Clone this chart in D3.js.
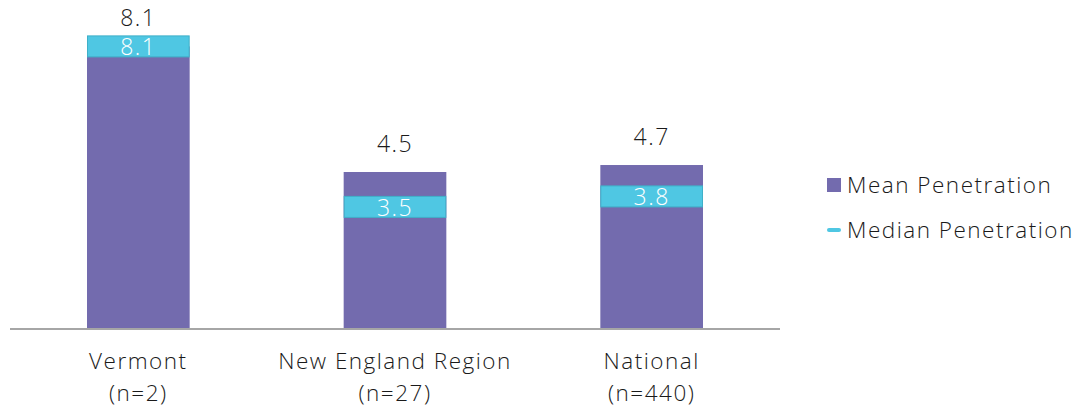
<!DOCTYPE html>
<html>
<head>
<meta charset="utf-8">
<script src="https://cdn.jsdelivr.net/npm/d3@7"></script>
<style>
  body { margin: 0; background: #fff; }
  text { font-family: "Open Sans", "Noto Sans", sans-serif; font-weight: 300; letter-spacing: 1.5px; }
</style>
</head>
<body>
<svg id="chart" width="1081" height="408"></svg>
<script>
var categories = ["Vermont", "New England Region", "National"];
var sampleLabels = ["(n=2)", "(n=27)", "(n=440)"];
var meanValues = [8.1, 4.5, 4.7];
var medianValues = [8.1, 3.5, 3.8];
var legendLabels = ["Mean Penetration", "Median Penetration"];

var purple = "#736bae";
var blue = "#4fc7e3";
var blueEdge = "#3fb0c8";

var svg = d3.select("#chart");

var baseline = 329;
var x = d3.scaleBand()
  .domain(categories)
  .range([10, 780])
  .paddingInner(0.6)
  .paddingOuter(0.3);

var y = d3.scaleLinear()
  .domain([0, 4.5])
  .range([baseline, 172]);

var data = categories.map(function(c, i) {
  return { cat: c, n: sampleLabels[i], mean: meanValues[i], median: medianValues[i] };
});

// mean bars
svg.selectAll("rect.mean")
  .data(data)
  .enter()
  .append("rect")
  .attr("class", "mean")
  .attr("x", function(d) { return x(d.cat); })
  .attr("y", function(d) { return y(d.mean); })
  .attr("width", x.bandwidth())
  .attr("height", function(d) { return baseline - y(d.mean); })
  .attr("fill", purple);

// axis line
svg.append("line")
  .attr("x1", 10).attr("x2", 780)
  .attr("y1", baseline).attr("y2", baseline)
  .attr("stroke", "#a6a6a6")
  .attr("stroke-width", 2);

// median markers
var boxH = 21;
svg.selectAll("rect.median")
  .data(data)
  .enter()
  .append("rect")
  .attr("class", "median")
  .attr("x", function(d) { return x(d.cat) + 0.5; })
  .attr("y", function(d) { return y(d.median) - boxH / 2; })
  .attr("width", x.bandwidth() - 1)
  .attr("height", boxH)
  .attr("fill", blue)
  .attr("stroke", blueEdge)
  .attr("stroke-width", 1);

svg.selectAll("text.medlab")
  .data(data)
  .enter()
  .append("text")
  .attr("class", "medlab")
  .attr("x", function(d) { return x(d.cat) + x.bandwidth() / 2; })
  .attr("y", function(d) { return y(d.median) + 9; })
  .attr("text-anchor", "middle")
  .attr("font-size", 23)
  .attr("fill", "#ffffff")
  .text(function(d) { return d.median.toFixed(1); });

// mean value labels
svg.selectAll("text.meanlab")
  .data(data)
  .enter()
  .append("text")
  .attr("class", "meanlab")
  .attr("x", function(d) { return x(d.cat) + x.bandwidth() / 2; })
  .attr("y", function(d) { return y(d.mean) - 20; })
  .attr("text-anchor", "middle")
  .attr("font-size", 23)
  .attr("fill", "#1a1a1a")
  .text(function(d) { return d.mean.toFixed(1); });

// category labels
var cl = svg.selectAll("text.cat")
  .data(data)
  .enter()
  .append("text")
  .attr("class", "cat")
  .attr("text-anchor", "middle")
  .attr("font-size", 22.5)
  .attr("fill", "#1a1a1a");
cl.append("tspan")
  .attr("x", function(d) { return x(d.cat) + x.bandwidth() / 2; })
  .attr("y", 369)
  .text(function(d) { return d.cat; });
cl.append("tspan")
  .attr("x", function(d) { return x(d.cat) + x.bandwidth() / 2; })
  .attr("y", 401)
  .text(function(d) { return d.n; });

// legend
var legend = svg.append("g").attr("transform", "translate(827,0)");
legend.append("rect")
  .attr("x", 0).attr("y", 178)
  .attr("width", 14).attr("height", 14)
  .attr("fill", purple);
legend.append("rect")
  .attr("x", 0).attr("y", 228)
  .attr("width", 14).attr("height", 4)
  .attr("rx", 2)
  .attr("fill", blue);
legend.selectAll("text.leg")
  .data(legendLabels)
  .enter()
  .append("text")
  .attr("class", "leg")
  .attr("x", 20)
  .attr("y", function(d, i) { return 193 + i * 45; })
  .attr("font-size", 22.5)
  .attr("fill", "#1a1a1a")
  .text(function(d) { return d; });
</script>
</body>
</html>
